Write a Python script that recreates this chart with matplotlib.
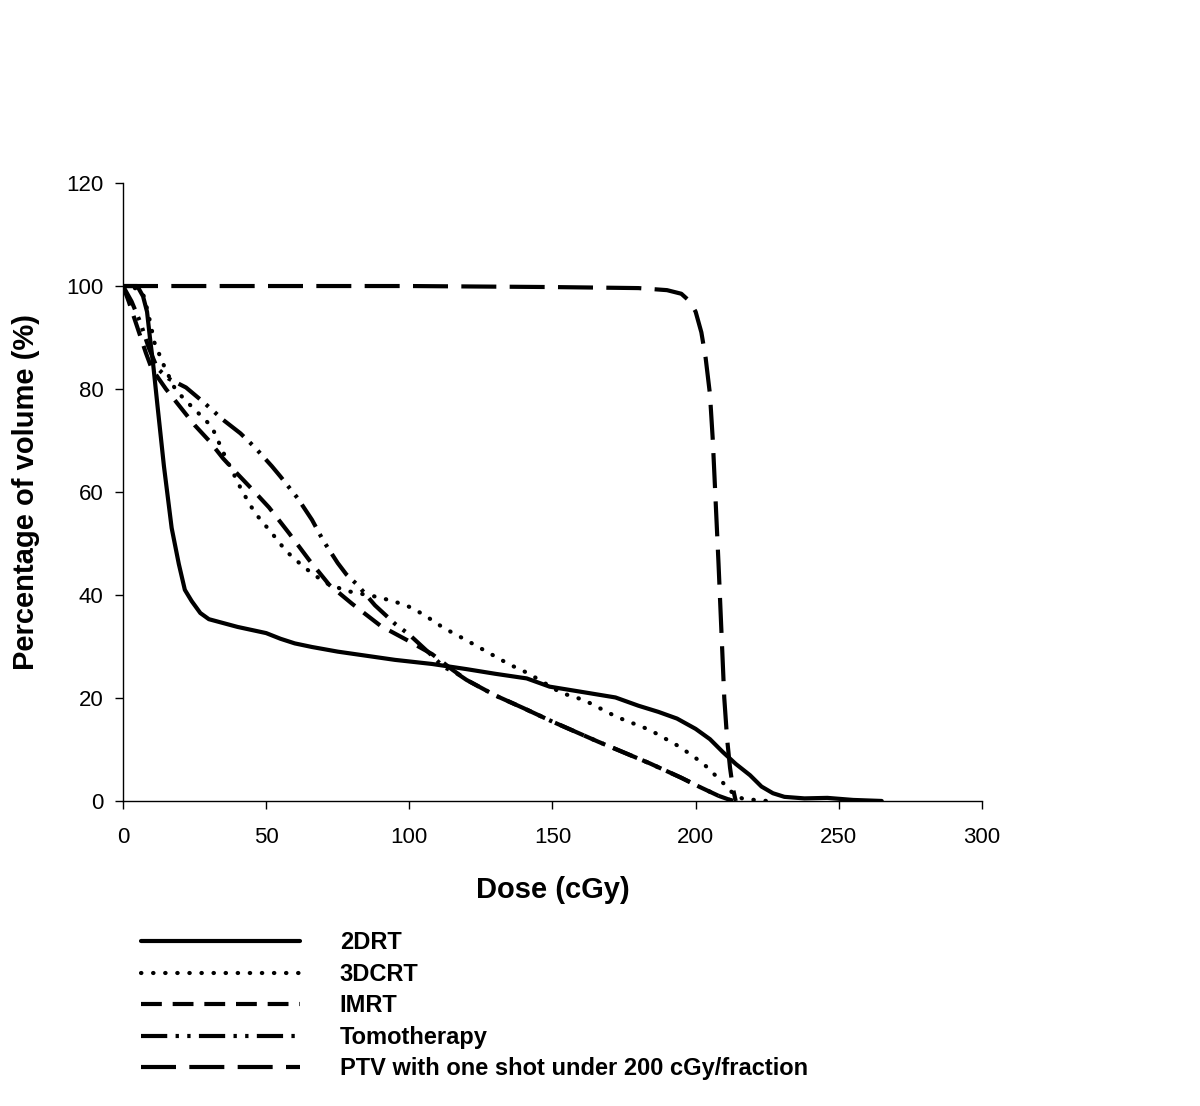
import matplotlib
matplotlib.use("Agg")
import matplotlib.pyplot as plt

plt.rcParams['font.family'] = ['Liberation Sans', 'DejaVu Sans']

# ---- data ----
drt2_x = [0, 5, 7, 8.4, 9.4, 10.5, 12, 14.3, 17, 19.5, 21.6, 24, 27, 30, 40, 50, 55, 60, 66, 75, 85, 95, 108,
          120, 130, 141, 149, 160, 172, 180, 187, 193.5, 200, 205, 209.5, 214, 219, 223, 227, 231, 238, 246, 255, 265]
drt2_y = [100, 100, 98, 95, 90, 85, 77, 65, 53, 46, 41, 38.8, 36.5, 35.3, 33.8, 32.6, 31.5, 30.6, 29.9, 29.0, 28.2, 27.4, 26.6,
          25.6, 24.7, 23.8, 22.2, 21.2, 20.1, 18.5, 17.3, 16.0, 14.0, 12.0, 9.5, 7.2, 5.0, 2.8, 1.5, 0.8, 0.5, 0.6, 0.2, 0.0]

crt3_x = [0, 5, 7, 8.7, 11, 14.7, 18.2, 21.6, 26, 31, 36, 41.4, 46, 52, 57, 62, 66, 71, 78, 89, 95, 100, 105, 112,
          120, 127, 135, 141.5, 153, 161, 172.5, 184, 194.5, 202.6, 209.6, 213, 216.5, 225]
crt3_y = [100, 99.5, 98.5, 95, 89, 84, 80, 77.9, 75.5, 72.7, 66.5, 60.4, 56, 52, 48.5, 46, 44.2, 42.3, 40.8, 39.6, 38.7, 37.7, 36.2, 33.6,
          31.2, 29, 26.5, 24.8, 21, 19.6, 16.3, 13.8, 10.5, 7.3, 3.5, 1.5, 0.4, 0]

imrt_x = [0, 2, 5, 8, 10, 15, 20, 25, 30, 35, 40, 46, 51, 58, 65, 72, 80, 90, 100, 108, 115, 120, 130, 140, 150,
          166, 184, 195, 201.5, 208, 213]
imrt_y = [100, 97, 92, 87, 84, 80, 76.5, 73, 70, 66.5, 63.5, 60, 57, 52, 46.8, 42, 38.3, 34, 31, 28.5, 25.5, 23.5, 20.5, 18, 15.4,
          11.5, 7.3, 4.5, 2.7, 1, 0]

tomo_x = [0, 3, 6, 9, 12, 16, 22, 28, 35, 41, 46, 52, 55, 61, 66, 70, 75, 78, 82, 88, 95, 100, 107, 112, 116, 120, 130,
          140, 150, 166, 184, 195, 201.5, 208, 213]
tomo_y = [100, 97, 93, 88, 84, 82, 80.3, 77.5, 74, 71.4, 68.7, 65, 63, 58.8, 54.6, 50.5, 46.2, 44, 41.9, 38, 34.4, 32.3, 28.7, 26, 25, 23.5, 20.5,
          18, 15.4, 11.5, 7.3, 4.5, 2.7, 1, 0]

ptv_x = [0, 50, 100, 150, 180, 190, 195, 198, 200, 202, 203.5, 205, 206, 207, 208, 209, 210, 211, 212, 213, 214]
ptv_y = [100, 100, 100, 99.8, 99.6, 99.2, 98.5, 97, 95, 91, 86, 79, 70, 58, 46, 33, 20, 12, 6.5, 2.5, 0]

labels = ["2DRT", "3DCRT", "IMRT", "Tomotherapy", "PTV with one shot under 200 cGy/fraction"]
x_ticks = [0, 50, 100, 150, 200, 250, 300]
y_ticks = [0, 20, 40, 60, 80, 100, 120]

# ---- styles ----
LW = 3.0
styles = [
    dict(linestyle='-', solid_capstyle='round'),
    dict(linestyle=(0, (0.1, 2.8)), dash_capstyle='round'),
    dict(linestyle=(0, (5.0, 2.6))),
    dict(linestyle=(0, (6.3, 2.0, 0.8, 2.0, 0.8, 2.0))),
    dict(linestyle=(0, (8.4, 3.2))),
]

fig = plt.figure(figsize=(12, 11.06), dpi=100)
ax = fig.add_axes([0.1025, 0.2758, 0.7158, 0.5587])

series = [(drt2_x, drt2_y), (crt3_x, crt3_y), (imrt_x, imrt_y), (tomo_x, tomo_y), (ptv_x, ptv_y)]
handles = []
for (xs, ys), st, lab in zip(series, styles, labels):
    h, = ax.plot(xs, ys, color='black', lw=LW, label=lab, **st)
    handles.append(h)

ax.set_xlim(0, 300)
ax.set_ylim(0, 120)
ax.set_xticks(x_ticks)
ax.set_yticks(y_ticks)
ax.spines['top'].set_visible(False)
ax.spines['right'].set_visible(False)
for s in ['left', 'bottom']:
    ax.spines[s].set_linewidth(1.0)
ax.tick_params(direction='out', length=6, width=1.0, labelsize=16)
ax.tick_params(axis='x', pad=13)
ax.tick_params(axis='y', pad=8)
ax.set_xlabel("Dose (cGy)", fontsize=21, fontweight='bold', labelpad=20)
ax.set_ylabel("Percentage of volume (%)", fontsize=21, fontweight='bold', labelpad=19)

leg = fig.legend(handles=handles, labels=labels, loc='upper left',
                 bbox_to_anchor=(0.1095, 1 - 922 / 1106), frameon=False,
                 prop=dict(size=17, weight='bold'), handlelength=6.75,
                 handletextpad=1.67, labelspacing=0.36, borderaxespad=0)

fig.savefig("out.png", dpi=100)
